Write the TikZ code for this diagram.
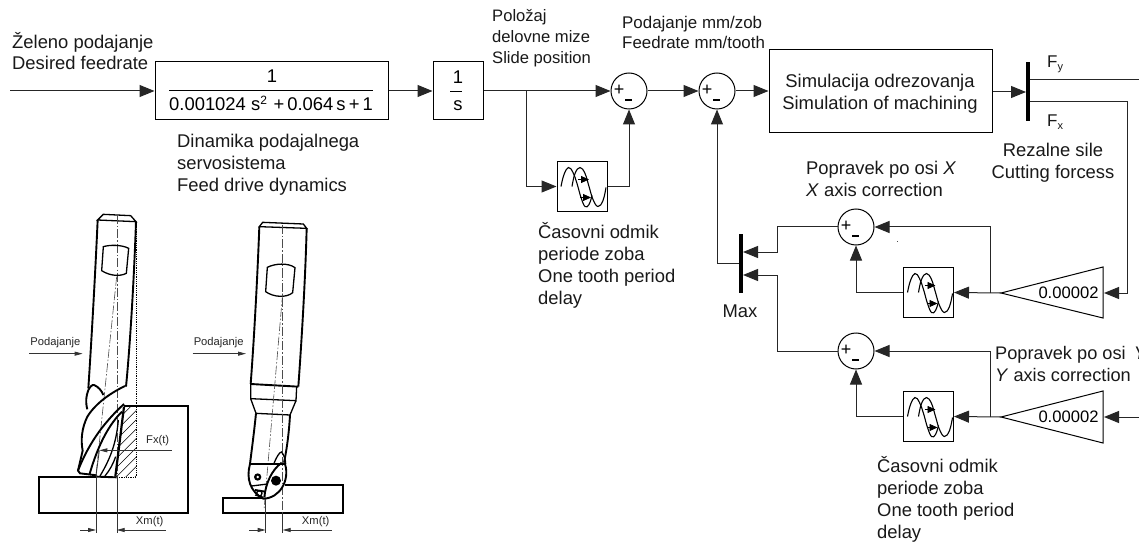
\documentclass[tikz,border=0pt]{standalone}
\usepackage{fontspec}
\setmainfont{Liberation Sans}
\usetikzlibrary{arrows.meta,calc}
\newcommand{\fs}[1]{\fontsize{#1}{22}\selectfont}
\tikzset{
  >={Triangle[length=15pt,width=12pt]},
  conn/.style={line width=1pt,draw=black!85},
  flow/.style={conn,->},
  blk/.style={draw=black,line width=1pt,fill=white,inner sep=0pt,font=\fs{18.4},align=center},
  sumnode/.style={circle,draw=black,line width=1pt,fill=white,minimum size=36pt,inner sep=0pt},
  barnode/.style={fill=black,inner sep=0pt,minimum width=4.5pt},
  txt/.style={inner sep=0pt,anchor=base west,align=left,font=\fs{18.4},text=black!90},
  txtc/.style={txt,anchor=base,align=center},
  small/.style={inner sep=0pt,anchor=base,font=\fs{11.2},text=black!85},
  tool/.style={line width=1.3pt,black},
  toolb/.style={line width=1.9pt,black},
  axis/.style={line width=.6pt,black!70,dash pattern=on 9pt off 2pt on 1.5pt off 2pt},
  dim/.style={line width=.8pt,black!80},
  dimar/.style={line width=.8pt,black!80,-{Triangle[length=8pt,width=4pt]}},
}
% sum junction with + and - signs
\newcommand{\sumj}[3]{%
  \node[sumnode] (#1) at (#2,#3) {};
  \node[inner sep=0pt,font=\fs{18}] (#1p) at ($(#1)+(-10,-1)$) {+};
  \node[fill=black,inner sep=0pt,minimum width=7pt,minimum height=2.4pt] (#1m) at ($(#1)+(-0.5,9)$) {};
}
% delay block: frame and wave icon
\newcommand{\delayb}[3]{%
  \node[blk,minimum size=50pt] (#1) at (#2,#3) {};
  \begin{scope}[shift={(#1.center)},line width=1.1pt]
    \draw plot[smooth,tension=.7] coordinates {(-21,0) (-18,-12) (-13.5,-19) (-9,-14) (-5,-3) (-1,11) (3,20) (7,18) (10,9)};
    \draw plot[smooth,tension=.7] coordinates {(-10,0) (-7,-13) (-2,-19) (3,-13) (7,0) (11,13) (16,20) (21,14) (24,1)};
    \draw[-{Triangle[length=8pt,width=7pt]},line width=.8pt] (-4,-7) -- (7,-7);
    \draw[-{Triangle[length=8pt,width=7pt]},line width=.8pt] (-2,11) -- (9,11);
  \end{scope}
}
\begin{document}
\begin{tikzpicture}[x=1pt,y=-1pt]
\useasboundingbox (0,0) rectangle (1139,545);
\clip (0,0) rectangle (1139,545);
\fill[white] (0,0) rectangle (1139,545);

% blocks
\coordinate (in) at (10,91);
\node[blk,minimum width=233pt,minimum height=58pt] (tf) at (271.5,91) {};
\node[inner sep=0pt,anchor=base,font=\fs{18.4}] (tfn) at (272,83) {1};
\node[inner sep=0pt,anchor=base,font=\fs{18.4}] (tfd) at (271,111) {0.001024 s\textsuperscript{\fs{12}2}\,\,+\,0.064\,s\,+\,1};
\draw[line width=.9pt] (169,90.5) -- (373,90.5);
\node[blk,minimum width=50pt,minimum height=58pt] (int) at (458,91) {};
\node[inner sep=0pt,anchor=base,font=\fs{18.4}] (intn) at (458,84) {1};
\node[inner sep=0pt,anchor=base,font=\fs{18.4}] (intd) at (458,111) {s};
\draw[line width=.9pt] (450,91) -- (462,91);
\sumj{s1}{629}{91}
\sumj{s2}{717}{91}
\node[blk,minimum width=223pt,minimum height=83pt] (sim) at (880.5,91.5) {};
\node[txtc] (simt) at (880,110) {Simulacija odrezovanja\\Simulation of machining};
\node[barnode,minimum height=59pt] (fbar) at (1028,91.5) {};
\delayb{d0}{582}{186.5}
\delayb{dx}{928.5}{292.5}
\delayb{dy}{928.5}{416.5}
\sumj{sx}{856}{227}
\sumj{sy}{856}{351}
\node[barnode,minimum height=59pt] (mbar) at (741,263.5) {};

% gains
\coordinate (gxa) at (1001,293); \coordinate (gxt) at (1103,267); \coordinate (gxb) at (1103,318);
\coordinate (gya) at (1001,417); \coordinate (gyt) at (1103,391); \coordinate (gyb) at (1103,443);
\draw[line width=1pt,line join=miter] (gxa) -- (gxt) -- (gxb) -- cycle;
\draw[line width=1pt,line join=miter] (gya) -- (gyt) -- (gyb) -- cycle;
\node[inner sep=0pt,font=\fs{16.6}] (gxl) at (1068.5,293) {0.00002};
\node[inner sep=0pt,font=\fs{16.6}] (gyl) at (1068.5,417) {0.00002};

% connectors
\draw[flow] (in) -- (tf.west);
\draw[flow] (tf.east) -- (int.west);
\draw[flow] (int.east) -- (s1.west);
\draw[flow] (s1.east) -- (s2.west);
\draw[flow] (s2.east) -- (sim.west |- s2);
\coordinate (tap0) at (526,91);
\draw[flow] (tap0) |- (d0.west);
\draw[flow] (d0.east) -| (s1.south);
\coordinate (simo) at (sim.east |- 0,92);
\coordinate (fbl) at (1026,92);
\draw[flow] (simo) -- (fbl);
\coordinate (fyend) at (1139,80);
\draw[conn] (fbar.east |- fyend) -- (fyend);
\coordinate (fxs) at (1030,102);
\coordinate (fxc) at (1127,102);
\coordinate (gxin) at (1104,293);
\draw[flow] (fxs) -- (fxc) |- (gxin);
\coordinate (gyend) at (1139,417);
\coordinate (gyin) at (1104,417);
\draw[flow] (gyend) -- (gyin);
\draw[flow] (gxa) -- (dx.east);
\draw[flow] (gya) -- (dy.east);
\coordinate (tapx) at (990,293);
\coordinate (tapy) at (990,417);
\draw[flow] (tapx) |- (sx.east);
\draw[flow] (tapy) |- (sy.east);
\draw[flow] (dx.west) -| (sx.south);
\draw[flow] (dy.west) -| (sy.south);
\coordinate (ma) at (743,252);
\coordinate (mb) at (743,275);
\coordinate (mx) at (777,227);
\coordinate (my) at (777,351);
\draw[flow] (sx.west) -- (mx) -- (mx |- ma) -- (ma);
\draw[flow] (sy.west) -- (my) -- (my |- mb) -- (mb);
\coordinate (mout) at (739,263);
\draw[flow] (mout) -| (s2.south);

% labels
\node[txt] (l1) at (12,70) {Želeno podajanje\\[-1pt]Desired feedrate};
\node[txt,font=\fs{16.6}] (l2) at (492,64) {Položaj\\[-1pt]delovne mize\\[-1pt]Slide position};
\node[txt,font=\fs{16.9}] (l3) at (622,49) {Podajanje mm/zob\\[-2pt]Feedrate mm/tooth};
\node[txt] (l4) at (177,192) {Dinamika podajalnega\\servosistema\\Feed drive dynamics};
\node[txt] (l5) at (538,304) {Časovni odmik\\periode zoba\\One tooth period\\delay};
\node[txt] (l6) at (877,538) {Časovni odmik\\periode zoba\\One tooth period\\delay};
\node[txt] (l7) at (806,197) {Popravek po osi \textit{X}\\\textit{X} axis correction};
\node[txt,font=\fs{18.2}] (l8) at (995,381) {Popravek po osi\, \textit{Y}\\\textit{Y} axis correction};
\node[txtc] (l9) at (1053,179) {Rezalne sile\\Cutting forcess};
\node[txtc] (l10) at (740,317) {Max};
\node[txt,font=\fs{17}] (fy) at (1047,68) {F\textsubscript{\fs{11}y}};
\node[txt,font=\fs{17}] (fx) at (1047,127) {F\textsubscript{\fs{11}x}};
\fill[black!70] (896.6,240.6) rectangle (897.6,241.6);

% ----- tool drawings (coordinates in 1/3 px) -----
\begin{scope}[shift={(0,180)},x=.33333pt,y=-.33333pt]
% tool 1: workpiece
\draw[toolb] (372,677) -- (565,677) -- (565,998) -- (117,998) -- (117,890) -- (290,890);
\draw[toolb] (290,890) -- (350,892);
% hatch
\begin{scope}
\clip (372,680) -- (408,680) -- (408,891) -- (348,891) -- cycle;
\foreach \k in {0,28,...,280} \draw[line width=.5pt] (340,{900-\k}) -- (420,{820-\k});
\foreach \k in {28,56} \draw[line width=.5pt] (340,{900+\k}) -- (420,{820+\k});
\end{scope}
\draw[line width=.8pt,densely dotted] (408,125) -- (408,891) -- (350,891);
% tool 1: shank
\draw[tool] (293,120) -- (310,103) -- (392,107) -- (408,125) -- cycle;
\draw[toolb] (293,120) .. controls (285,300) and (272,520) .. (265,625);
\draw[toolb] (408,125) .. controls (402,300) and (390,500) .. (378,620);
\draw[axis] (352,105) -- (352,1048);
\draw[axis] (350,290) -- (288,885);
% window
\draw[tool] (310,200) .. controls (330,194) and (365,194) .. (386,205) -- (379,280) .. controls (360,290) and (330,288) .. (305,272) -- cycle;
% tool 1: flutes
\draw[toolb] (265,630) .. controls (270,620) and (278,613) .. (282,615) .. controls (295,620) and (305,632) .. (310,645);
\draw[toolb] (265,630) .. controls (258,650) and (256,665) .. (262,688);
\draw[toolb] (375,618) .. controls (340,635) and (290,665) .. (262,710) .. controls (245,745) and (242,780) .. (248,812) -- (234,872) -- (240,880) -- (290,886);
\draw[toolb] (372,672) .. controls (320,720) and (270,780) .. (234,872);
\draw[toolb] (366,695) .. controls (330,730) and (295,790) .. (268,885);
\draw[tool] (355,720) .. controls (350,780) and (335,830) .. (300,888);
\draw[tool] (347,830) .. controls (340,850) and (330,870) .. (315,888);
\draw[line width=2.2pt] (372,680) -- (346,890);
% Fx leader
\coordinate (fxa) at (515,811);
\coordinate (fxb) at (298,811);
\coordinate (fxc2) at (288,888);
\draw[dim,{Triangle[length=8pt,width=4pt]}-] (fxb) -- (fxa);
\draw[dim] (fxb) -- (fxc2);
\node[small] (tfx) at (473,792) {Fx(t)};
% dims tool 1
\coordinate (d1a) at (288,1050); \coordinate (d1b) at (350,1050);
\draw[dim] (288,885) -- (288,1058);
\draw[dim] (352,892) -- (352,1058);
\coordinate (d1l) at (240,1050); \coordinate (d1r) at (497,1050);
\draw[dimar] (d1l) -- (d1a);
\draw[dimar] (d1r) -- (d1b);
\node[small] (tx1) at (449,1035) {Xm(t)};
\node[small] (tp1) at (166,497) {Podajanje};
\coordinate (p1a) at (88,521); \coordinate (p1b) at (248,521);
\draw[dimar] (p1a) -- (p1b);

% tool 2: workpiece
\draw[toolb] (790,955) -- (670,955) -- (670,998) -- (1028,998) -- (1028,914) -- (855,914);
% tool 2: shank
\draw[tool] (778,140) -- (788,127) -- (910,132) -- (920,145) -- cycle;
\draw[toolb] (778,140) .. controls (772,300) and (762,480) .. (752,612);
\draw[toolb] (920,145) .. controls (916,300) and (905,480) .. (895,620);
\draw[toolb] (752,612) -- (895,620);
\draw[tool] (752,612) -- (752,656) -- (888,662) -- (890,620);
\draw[tool] (752,656) -- (768,700) -- (870,705) -- (888,662);
\draw[toolb] (768,700) .. controls (762,760) and (755,810) .. (750,852);
\draw[toolb] (870,705) .. controls (867,760) and (860,810) .. (852,848);
% window
\draw[tool] (802,262) .. controls (825,250) and (865,248) .. (885,263) -- (878,338) .. controls (860,354) and (820,352) .. (797,335) -- cycle;
\draw[axis] (848,135) -- (848,1050);
\draw[axis] (848,340) -- (792,990);
% head
\draw[toolb] (750,852) -- (855,852);
\draw[toolb] (750,852) .. controls (738,895) and (750,935) .. (790,956) .. controls (840,955) and (870,900) .. (855,852);
\draw[tool] (755,918) -- (803,912);
\draw[tool] (822,850) .. controls (828,835) and (838,815) .. (845,816) .. controls (852,825) and (857,840) .. (857,852);
\draw[toolb] (845,848) .. controls (815,870) and (797,910) .. (793,952);
\fill (773,891) circle[radius=11];
\fill[white] (773,891) circle[radius=4];
\fill (828,902) circle[radius=15];
\draw[toolb] (765,930) -- (795,935);
\draw[tool] (778,940) circle[radius=8];
\draw[tool] (765,945) -- (790,952);
% dims tool 2
\coordinate (d2a) at (797,1050); \coordinate (d2b) at (848,1050);
\draw[dim] (797,958) -- (797,1058);
\draw[dim] (848,1000) -- (848,1058);
\coordinate (d2l) at (748,1050); \coordinate (d2r) at (995,1050);
\draw[dimar] (d2l) -- (d2a);
\draw[dimar] (d2r) -- (d2b);
\node[small] (tx2) at (947,1035) {Xm(t)};
\node[small] (tp2) at (656,497) {Podajanje};
\coordinate (p2a) at (578,521); \coordinate (p2b) at (738,521);
\draw[dimar] (p2a) -- (p2b);
\end{scope}
\end{tikzpicture}
\end{document}
